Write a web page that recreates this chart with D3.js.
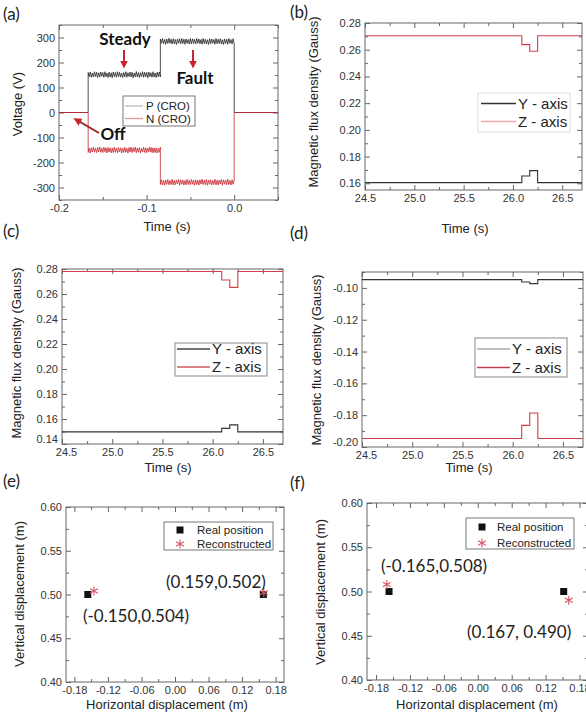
<!DOCTYPE html>
<html>
<head>
<meta charset="utf-8">
<script src="https://cdn.jsdelivr.net/npm/d3@7"></script>
<style>
  body { margin: 0; background: #fff; }
  text { font-family: "Liberation Sans", Arial, sans-serif; }
</style>
</head>
<body>
<script>
// ---- data: panel (a) voltage trace ----
const aSwitchTimes = [-0.1667, -0.0843, 0.0];   // on, fault, off
const pLevels = [0, 151, 284, 0];
const nLevels = [0, -150, -279, 0];
const pSteadyRipple = [9,-8,11,-10,7,-9,12,-7,10,-11,8,-9,11,-6,9,-10,12,-8,7,-11,10,-9,8,-12,11,-7,9,-10,12,-8,10,-9,7,-11,9,-8,12,-10,8,-7,11,-9,10,-12,7,-8,13,-9,9,-11,8,-7,12,-10,10,-8,9,-12,11,-7,8,-10,12,-9,7,-11,10,-8,11,-9];
const pFaultRipple = [10,-7,12,-9,8,-11,10,-8,13,-7,9,-10,11,-9,8,-12,10,-7,11,-9,12,-8,9,-11,10,-7,8,-10,12,-9,11,-8,9,-10,12,-7,10,-9,8,-11,12,-8,9,-10,7,-12,11,-9,10,-7,8,-11,12,-9,9,-8,11,-10,7,-12,10,-8,9,-11,12,-7,8,-10,11,-9];
const nSteadyRipple = [-10,8,-12,9,-8,11,-9,7,-11,10,-8,12,-9,8,-10,11,-7,9,-12,10,-8,9,-11,7,-10,12,-9,8,-11,10,-7,9,-12,8,-10,11,-9,7,-12,10,-8,11,-10,9,-7,12,-11,8,-9,10,-12,7,-8,11,-10,9,-11,8,-7,12,-9,10,-11,8,-10,9,-12,7,-9,11];
const nFaultRipple = [-9,10,-11,8,-12,9,-8,11,-10,7,-9,12,-11,8,-10,9,-7,11,-12,10,-8,9,-11,7,-10,12,-9,8,-10,11,-8,9,-12,10,-9,8,-11,10,-7,12,-9,8,-10,11,-12,9,-8,10,-11,7,-9,12,-10,8,-11,9,-7,11,-12,10,-8,9,-10,12,-9,7,-11,10,-8,9];
const aXTicks = [-0.2, -0.1, 0.0];
const aYTicks = [-300, -200, -100, 0, 100, 200, 300];

// ---- data: panels (b)-(d) magnetic flux density ----
const fluxTimes = [24.5, 26.09, 26.17, 26.25, 26.7];
const bY = [0.1605, 0.1655, 0.1695, 0.1605, 0.1605];
const bZ = [0.2705, 0.2638, 0.2588, 0.2705, 0.2705];
const cY = [0.1497, 0.1525, 0.1553, 0.1497, 0.1497];
const cZ = [0.2780, 0.2712, 0.2653, 0.2780, 0.2780];
const dY = [-0.0948, -0.0963, -0.0973, -0.0948, -0.0948];
const dZ = [-0.1947, -0.1864, -0.1786, -0.1947, -0.1947];
const timeTicks = [24.5, 25.0, 25.5, 26.0, 26.5];
const bYTicks = [0.16, 0.18, 0.20, 0.22, 0.24, 0.26, 0.28];
const cYTicks = [0.14, 0.16, 0.18, 0.20, 0.22, 0.24, 0.26, 0.28];
const dYTicks = [-0.20, -0.18, -0.16, -0.14, -0.12, -0.10];

// ---- data: panels (e)-(f) positions ----
const eReal = [[-0.156, 0.500], [0.158, 0.500]];
const eRecon = [[-0.145, 0.504], [0.159, 0.502]];
const fReal = [[-0.157, 0.500], [0.152, 0.500]];
const fRecon = [[-0.161, 0.508], [0.161, 0.490]];
const eLabels = ["(0.159,0.502)", "(-0.150,0.504)"];
const fLabels = ["(-0.165,0.508)", "(0.167, 0.490)"];
const posXTicks = [-0.18, -0.12, -0.06, 0.00, 0.06, 0.12, 0.18];
const posYTicks = [0.40, 0.45, 0.50, 0.55, 0.60];

const red = "#c8252d";
const svg = d3.select("body").append("svg")
  .attr("width", 586).attr("height", 719);

svg.append("defs").append("marker")
  .attr("id", "head")
  .attr("viewBox", "0 0 10 10")
  .attr("refX", 8).attr("refY", 5)
  .attr("markerWidth", 4).attr("markerHeight", 4)
  .attr("orient", "auto")
  .append("path").attr("d", "M0,0L10,5L0,10z").attr("fill", red);

const hyph = (f) => (v) => d3.format(f)(v).replace("\u2212", "-");

function minorOf(major, dom) {
  const step = major[1] - major[0];
  const out = [];
  for (let v = major[0] - step / 2; v <= dom[1] + 1e-9; v += step) {
    if (v >= dom[0] - 1e-9) out.push(v);
  }
  return out;
}

function panel(o) {
  const x = d3.scaleLinear().domain(o.xd).range([o.l, o.r]);
  const y = d3.scaleLinear().domain(o.yd).range([o.b, o.t]);
  const g = svg.append("g");
  const id = "clip" + o.name;
  svg.select("defs").append("clipPath").attr("id", id)
    .append("rect").attr("x", o.l).attr("y", o.t)
    .attr("width", o.r - o.l).attr("height", o.b - o.t);

  const xMin = minorOf(o.xt, o.xd), yMin = minorOf(o.yt, o.yd);
  const axes = [
    [d3.axisBottom(x).tickValues(o.xt).tickFormat(o.xf), `translate(0,${o.b})`],
    [d3.axisBottom(x).tickValues(xMin).tickFormat("").tickSize(-3), `translate(0,${o.b})`],
    [d3.axisTop(x).tickValues(o.xt).tickFormat(""), `translate(0,${o.t})`],
    [d3.axisTop(x).tickValues(xMin).tickFormat("").tickSize(-3), `translate(0,${o.t})`],
    [d3.axisLeft(y).tickValues(o.yt).tickFormat(o.yf), `translate(${o.l},0)`],
    [d3.axisLeft(y).tickValues(yMin).tickFormat("").tickSize(-3), `translate(${o.l},0)`],
    [d3.axisRight(y).tickValues(o.yt).tickFormat(""), `translate(${o.r},0)`],
    [d3.axisRight(y).tickValues(yMin).tickFormat("").tickSize(-3), `translate(${o.r},0)`]
  ];
  axes.forEach(([ax, tr], i) => {
    if (i % 2 === 0 && ax.tickSize() > 0) ax.tickSize(-5);
    ax.tickPadding(4);
    const a = g.append("g").attr("transform", tr).call(ax);
    a.select(".domain").remove();
    a.selectAll("line").attr("stroke", "#666");
    a.selectAll("text").attr("font-size", 11).attr("fill", "#333")
      .style("font-family", "'Liberation Sans', Arial, sans-serif");
    // corner labels sit a little apart, as in the original
    if (i === 0 && o.firstXShift) a.select(".tick text").attr("dx", o.firstXShift);
    if (i === 4 && o.firstYShift) a.select(".tick text").attr("dy", o.firstYShift);
  });

  g.append("rect")
    .attr("x", o.l).attr("y", o.t)
    .attr("width", o.r - o.l).attr("height", o.b - o.t)
    .attr("fill", "none").attr("stroke", "#666").attr("stroke-width", 1);

  // titles
  g.append("text")
    .attr("x", o.xtx).attr("y", o.xty)
    .attr("text-anchor", "middle").attr("font-size", 13).attr("fill", "#222")
    .text(o.xTitle);
  g.append("text")
    .attr("transform", `translate(${o.ytx},${o.yty}) rotate(-90)`)
    .attr("text-anchor", "middle").attr("font-size", 13).attr("fill", "#222")
    .text(o.yTitle);
  g.append("text")
    .attr("x", o.lx).attr("y", o.ly)
    .attr("font-size", 17).attr("fill", "#222")
    .style("font-family", "Lato, sans-serif")
    .text(o.letter);

  const plot = g.append("g").attr("clip-path", `url(#${id})`);
  return { x, y, g, plot };
}

function legendBox(g, box, items) {
  g.append("rect")
    .attr("x", box[0]).attr("y", box[1])
    .attr("width", box[2] - box[0]).attr("height", box[3] - box[1])
    .attr("fill", "#fff").attr("stroke", box[4] || "#999").attr("stroke-width", 1);
  items.forEach((it) => {
    if (it.line) {
      g.append("line").attr("x1", it.x1).attr("x2", it.x2)
        .attr("y1", it.y).attr("y2", it.y)
        .attr("stroke", it.color).attr("stroke-width", 1.3);
    }
    g.append("text").attr("x", it.tx).attr("y", it.y + it.fs * 0.36)
      .attr("font-size", it.fs).attr("fill", "#222").text(it.label);
  });
}

// ---------- (a) ----------
const A = panel({
  name: "a", l: 59, r: 278, t: 25, b: 200, xd: [-0.2, 0.05], yd: [-350, 350],
  xt: aXTicks, yt: aYTicks, xf: hyph(".1f"), yf: hyph("d"),
  xTitle: "Time (s)", xtx: 167, xty: 231, yTitle: "Voltage (V)", ytx: 22, yty: 104,
  letter: "(a)", lx: 3, ly: 20
});

function buildTrace(levels, ripples) {
  const pts = [[-0.2, levels[0]], [aSwitchTimes[0], levels[0]]];
  ripples.forEach((rip, s) => {
    const t0 = aSwitchTimes[s], t1 = aSwitchTimes[s + 1];
    rip.forEach((r, i) => {
      pts.push([t0 + (t1 - t0) * i / (rip.length - 1), levels[s + 1] + r]);
    });
  });
  pts.push([aSwitchTimes[2], levels[3]], [0.05, levels[3]]);
  return pts;
}
const lineA = d3.line().x((d) => A.x(d[0])).y((d) => A.y(d[1]));
A.plot.append("path").datum(buildTrace(pLevels, [pSteadyRipple, pFaultRipple]))
  .attr("d", lineA).attr("fill", "none").attr("stroke", "#222").attr("stroke-width", 0.8);
A.plot.append("path").datum(buildTrace(nLevels, [nSteadyRipple, nFaultRipple]))
  .attr("d", lineA).attr("fill", "none").attr("stroke", red).attr("stroke-width", 0.8);

legendBox(A.g, [123, 96, 195, 126, "#777"], [
  { line: true, x1: 125, x2: 143, y: 106, color: "#bbb", tx: 146, fs: 11.5, label: "P (CRO)" },
  { line: true, x1: 125, x2: 143, y: 118.5, color: "#e59a9a", tx: 146, fs: 11.5, label: "N (CRO)" }
]);

const bold = (g, x, y, s) => g.append("text").attr("x", x).attr("y", y)
  .attr("text-anchor", "middle").attr("font-size", 17).attr("font-weight", "bold")
  .attr("fill", "#111").style("font-family", "Lato, sans-serif").text(s);
bold(A.g, 125, 45, "Steady");
bold(A.g, 195, 84, "Fault");
bold(A.g, 113, 140, "Off");
[[124, 50, 124, 67], [193, 50, 193, 67], [99, 133, 75, 119]].forEach((a) => {
  A.g.append("line").attr("x1", a[0]).attr("y1", a[1]).attr("x2", a[2]).attr("y2", a[3])
    .attr("stroke", a[0] === 99 ? "#9e2228" : red).attr("stroke-width", 2)
    .attr("marker-end", "url(#head)");
});

// ---------- (b)-(d) ----------
function fluxPanel(o, yData, zData, leg) {
  const P = panel(Object.assign({
    xd: [24.5, 26.7], xt: timeTicks, xf: hyph(".1f"), yf: hyph(".2f"),
    xTitle: "Time (s)", yTitle: "Magnetic flux density (Gauss)"
  }, o));
  const ln = (vals) => d3.line().curve(d3.curveStepAfter)
    .x((d, i) => P.x(fluxTimes[i])).y((d) => P.y(d))(vals);
  P.plot.append("path").attr("d", ln(zData)).attr("fill", "none")
    .attr("stroke", "#d0404a").attr("stroke-width", 1.1);
  P.plot.append("path").attr("d", ln(yData)).attr("fill", "none")
    .attr("stroke", "#333").attr("stroke-width", 1.1);
  legendBox(P.g, leg.box, [
    { line: true, x1: leg.x1, x2: leg.x2, y: leg.y1, color: leg.cy, tx: leg.tx, fs: 15, label: "Y - axis" },
    { line: true, x1: leg.x1, x2: leg.x2, y: leg.y2, color: leg.cz, tx: leg.tx, fs: 15, label: "Z - axis" }
  ]);
  return P;
}

fluxPanel({ name: "b", l: 365, r: 582, t: 23, b: 190, yd: [0.155, 0.28], yt: bYTicks,
  xtx: 465, xty: 233, ytx: 318, yty: 102, letter: "(b)", lx: 290, ly: 18 }, bY, bZ,
  { box: [478, 93, 570, 132, "#ddd"], x1: 481, x2: 516, y1: 103.5, y2: 121.5, tx: 518, cy: "#333", cz: "#f2a8ae" });

fluxPanel({ name: "c", l: 62, r: 283, t: 269, b: 444, yd: [0.14, 0.28], yt: cYTicks,
  firstXShift: 4, firstYShift: "-0.1em",
  xtx: 168, xty: 472, ytx: 21, yty: 353, letter: "(c)", lx: 3, ly: 237 }, cY, cZ,
  { box: [175, 343, 267, 376, "#888"], x1: 177, x2: 210, y1: 349, y2: 367, tx: 212, cy: "#444", cz: "#d05a60" });

fluxPanel({ name: "d", l: 362, r: 583, t: 272, b: 447, yd: [-0.2, -0.09], yt: dYTicks,
  firstXShift: 4, firstYShift: "-0.1em",
  xtx: 469, xty: 472, ytx: 321, yty: 360, letter: "(d)", lx: 290, ly: 239 }, dY, dZ,
  { box: [475, 338, 567, 377, "#888"], x1: 477, x2: 510, y1: 349, y2: 367.5, tx: 512, cy: "#aaa", cz: "#c0404a" });

// ---------- (e)-(f) ----------
const pink = "#d4566a";
function starPath(cx, cy, r) {
  let d = "";
  [90, 30, 150].forEach((deg) => {
    const a = deg * Math.PI / 180, dx = r * Math.cos(a), dy = r * Math.sin(a);
    d += `M${cx - dx},${cy - dy}L${cx + dx},${cy + dy}`;
  });
  return d;
}
function posPanel(o, real, recon, labels, labelPos, leg) {
  const P = panel(Object.assign({
    yd: [0.4, 0.6], xt: posXTicks, yt: posYTicks, xf: hyph(".2f"), yf: hyph(".2f"),
    xTitle: "Horizontal displacement (m)", yTitle: "Vertical displacement (m)"
  }, o));
  P.plot.selectAll(".real").data(real).enter().append("rect")
    .attr("x", (d) => P.x(d[0]) - 3.5).attr("y", (d) => P.y(d[1]) - 3.5)
    .attr("width", 7).attr("height", 7).attr("fill", "#111");
  P.plot.selectAll(".recon").data(recon).enter().append("path")
    .attr("d", (d) => starPath(P.x(d[0]), P.y(d[1]), 4.5))
    .attr("stroke", pink).attr("stroke-width", 1.1).attr("fill", "none");
  labels.forEach((s, i) => {
    P.g.append("text").attr("x", labelPos[i][0]).attr("y", labelPos[i][1])
      .attr("font-size", 17).attr("fill", "#222")
      .style("font-family", "Lato, sans-serif").text(s);
  });
  legendBox(P.g, leg.box, [
    { line: false, y: leg.y1, tx: leg.tx, fs: 11.5, label: "Real position" },
    { line: false, y: leg.y2, tx: leg.tx, fs: 11.5, label: "Reconstructed" }
  ]);
  P.g.append("rect").attr("x", leg.sx - 3.5).attr("y", leg.y1 - 3.5)
    .attr("width", 7).attr("height", 7).attr("fill", "#111");
  P.g.append("path").attr("d", starPath(leg.sx, leg.y2, 4.5))
    .attr("stroke", pink).attr("stroke-width", 1.1).attr("fill", "none");
  return P;
}

posPanel({ name: "e", l: 66, r: 284, t: 507, b: 682, xd: [-0.195, 0.195],
  xtx: 167, xty: 709, ytx: 24, yty: 594, letter: "(e)", lx: 3, ly: 487 },
  eReal, eRecon, eLabels, [[166, 588], [83, 622]],
  { box: [164, 522, 273, 550, "#777"], sx: 180, y1: 530, y2: 544, tx: 197 });

posPanel({ name: "f", l: 367, r: 588, t: 503, b: 680, xd: [-0.196, 0.195],
  xtx: 477, xty: 709, ytx: 325, yty: 592, letter: "(f)", lx: 290, ly: 489 },
  fReal, fRecon, fLabels, [[381, 572], [467, 638]],
  { box: [466, 518, 574, 549, "#777"], sx: 482, y1: 527, y2: 543, tx: 497 });
</script>
</body>
</html>
